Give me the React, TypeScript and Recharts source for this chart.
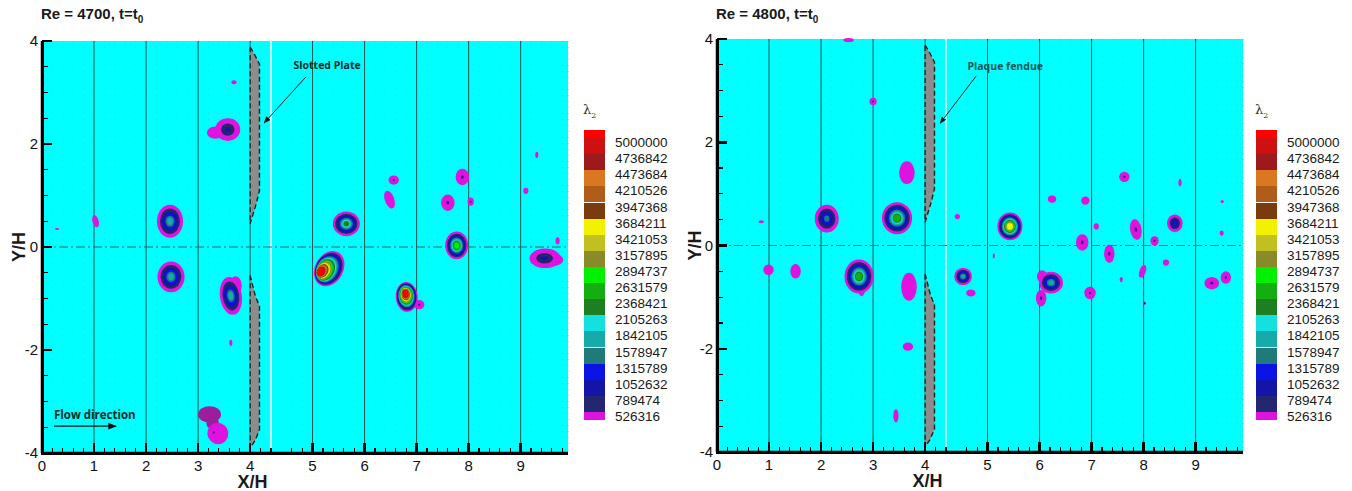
import React from 'react';
import {
  ScatterChart,
  Scatter,
  XAxis,
  YAxis,
  CartesianGrid,
  ReferenceLine,
  ReferenceDot,
  Legend,
} from 'recharts';

// λ2 contour levels, top of the colour bar first
const levelLabels = [
  '5000000', '4736842', '4473684', '4210526', '3947368', '3684211',
  '3421053', '3157895', '2894737', '2631579', '2368421', '2105263',
  '1842105', '1578947', '1315789', '1052632', '789474', '526316',
];

// band colours from the lowest level (index 0) to the highest
const levelColors = [
  '#e012e0', '#23276e', '#1414a8', '#0a14e6', '#1f7a7a', '#17aaaa',
  '#14e0e0', '#1f7d22', '#12ae12', '#00f000', '#898a2a', '#c0c020',
  '#f2f200', '#7b3b0e', '#b05c1b', '#d97820', '#9c1a1c', '#cf1010', '#ff0000',
];
const PURPLE = '#9d1d9d';

const labelY = [-4, -2, 0, 2, 4];
const gridX = [1, 2, 3, 4, 5, 6, 7, 8, 9];

// vortex cores: [x/H, y/H, half-width, half-height, highest level, tilt deg, core dx, core dy]
type Vortex = [number, number, number, number, number, number, number?, number?];

const vortices4700: Vortex[] = [
  [3.33, 2.22, 0.16, 0.12, 0, 0],
  [3.57, 2.28, 0.24, 0.22, 2, 0],
  [2.46, 0.5, 0.25, 0.32, 5, 0],
  [2.48, -0.58, 0.26, 0.3, 5, 0],
  [3.72, -0.75, 0.12, 0.18, 0, 0],
  [3.63, -0.95, 0.21, 0.37, 5, -8],
  [3.63, -1.86, 0.03, 0.06, 0, 0],
  [3.69, 3.2, 0.05, 0.04, 0, 0],
  [1.03, 0.5, 0.06, 0.12, 0, -15],
  [0.29, 0.35, 0.04, 0.02, 0, 0],
  [3.22, -3.25, 0.22, 0.16, -1, 0],
  [3.28, -3.42, 0.12, 0.12, -1, 0],
  [3.38, -3.62, 0.2, 0.21, 0, -25],
  [3.3, -3.6, 0.02, 0.02, 1, 0],
  [5.65, 0.45, 0.26, 0.24, 7, 0],
  [5.32, -0.42, 0.27, 0.36, 18, 30, -0.12, -0.14],
  [7.05, -1.12, 0.1, 0.09, 1, 0],
  [6.81, -0.97, 0.21, 0.29, 18, -5, -0.02, 0.07],
  [7.77, 0.03, 0.22, 0.27, 9, 0],
  [7.6, 0.86, 0.13, 0.16, 1, 0],
  [7.88, 1.36, 0.13, 0.16, 1, 0],
  [8.04, 0.88, 0.06, 0.08, 1, 0],
  [6.56, 1.3, 0.1, 0.09, 1, 0],
  [6.48, 0.92, 0.09, 0.18, 0, -20],
  [9.62, -0.25, 0.2, 0.12, 0, 0],
  [9.47, -0.22, 0.3, 0.19, 2, 0, -0.02, 0],
  [9.71, 0.12, 0.04, 0.07, 0, 0],
  [9.1, 1.09, 0.05, 0.06, 0, 0],
  [9.31, 1.79, 0.03, 0.06, 0, 0],
];

const vortices4800: Vortex[] = [
  [2.53, 3.98, 0.1, 0.04, 0, 0],
  [3.0, 2.79, 0.07, 0.07, 1, 0],
  [3.65, 1.41, 0.15, 0.22, 0, 0],
  [2.11, 0.52, 0.23, 0.27, 4, 0],
  [3.46, 0.53, 0.29, 0.31, 8, 0],
  [2.78, -0.88, 0.06, 0.1, 0, 0],
  [2.73, -0.6, 0.28, 0.33, 8, 0],
  [3.69, -0.8, 0.15, 0.27, 0, 0],
  [0.99, -0.47, 0.1, 0.1, 0, 0],
  [1.51, -0.5, 0.1, 0.14, 0, 0],
  [0.85, 0.46, 0.05, 0.03, 0, 0],
  [3.67, -1.96, 0.1, 0.08, 0, 0],
  [3.44, -3.3, 0.05, 0.13, 0, 0],
  [4.42, 0.56, 0.05, 0.05, 0, 0],
  [4.53, -0.6, 0.17, 0.17, 5, 0],
  [4.68, -0.92, 0.09, 0.07, 0, 0],
  [5.43, 0.37, 0.24, 0.27, 12, 0],
  [5.12, -0.2, 0.02, 0.05, 0, 0],
  [6.05, -0.6, 0.1, 0.12, 0, 0],
  [6.22, -0.72, 0.23, 0.21, 5, 0],
  [6.03, -1.02, 0.1, 0.16, 1, 0],
  [6.24, 0.9, 0.08, 0.07, 0, 0],
  [6.88, 0.87, 0.08, 0.08, 0, 0],
  [6.82, 0.06, 0.12, 0.16, 1, 0],
  [7.09, 0.37, 0.05, 0.06, 0, 0],
  [7.34, -0.16, 0.1, 0.18, 1, 0],
  [6.97, -0.92, 0.11, 0.12, 1, 0],
  [7.63, 1.33, 0.1, 0.1, 1, 0],
  [7.85, 0.31, 0.11, 0.2, 1, -10],
  [7.57, -0.66, 0.03, 0.05, 0, 0],
  [7.98, -0.5, 0.06, 0.13, 0, 20],
  [8.21, 0.09, 0.08, 0.09, 1, 0],
  [8.6, 0.43, 0.15, 0.17, 3, 0],
  [8.43, -0.33, 0.06, 0.06, 0, 0],
  [8.7, 1.22, 0.03, 0.07, 0, 0],
  [9.31, -0.73, 0.14, 0.12, 1, 0],
  [9.58, -0.62, 0.1, 0.12, 1, 0],
  [9.5, 0.24, 0.04, 0.05, 0, 0],
  [9.51, 0.85, 0.03, 0.03, 0, 0],
  [8.02, -1.12, 0.02, 0.03, 1, 0],
];

// slotted plate outline (upper and lower halves)
const plateUpper = [
  { x: 4.0, y: 3.88 }, { x: 4.08, y: 3.75 }, { x: 4.18, y: 3.55 }, { x: 4.18, y: 1.1 },
  { x: 4.12, y: 0.85 }, { x: 4.0, y: 0.45 }, { x: 4.0, y: 3.88 },
];
const plateLower = [
  { x: 4.0, y: -0.55 }, { x: 4.1, y: -0.95 }, { x: 4.18, y: -1.15 }, { x: 4.18, y: -3.55 },
  { x: 4.1, y: -3.75 }, { x: 4.0, y: -3.9 }, { x: 4.0, y: -0.55 },
];

const X_MAX = 9.91;
const X_BREAK = 4.4;
const X_GAP = 0.2;
const FONT = '"Liberation Sans", Arial, sans-serif';

const xTicks = Array.from({ length: 50 }, (_, i) => Math.round(i * 2) / 10);
const yTicks = Array.from({ length: 17 }, (_, i) => -4 + i * 0.5);
const isWhole = (v: number) => Math.abs(v - Math.round(v)) < 1e-6;

// the two stitched camera images leave a small jump just after x/H = 4.4
function gapScale(breakAt: number, gap: number): any {
  let dom: number[] = [0, 1];
  let rng: number[] = [0, 1];
  const warp = (v: number) => (v > breakAt ? v + gap : v);
  const scale: any = (v: number) => {
    const a = warp(dom[0]);
    const b = warp(dom[dom.length - 1]);
    const r0 = rng[0];
    const r1 = rng[rng.length - 1];
    return r0 + ((warp(Number(v)) - a) / (b - a)) * (r1 - r0);
  };
  scale.domain = (d?: any[]) => {
    if (d === undefined) return dom.slice();
    dom = d.map(Number);
    return scale;
  };
  scale.range = (r?: any[]) => {
    if (r === undefined) return rng.slice();
    rng = r.map(Number);
    return scale;
  };
  scale.invert = (px: number) => {
    const a = warp(dom[0]);
    const b = warp(dom[dom.length - 1]);
    const u = a + ((px - rng[0]) / (rng[rng.length - 1] - rng[0])) * (b - a);
    return u > breakAt + gap ? u - gap : Math.min(u, breakAt);
  };
  scale.copy = () => gapScale(breakAt, gap).domain(dom).range(rng);
  scale.ticks = () => xTicks;
  scale.tickFormat = () => (v: number) => String(v);
  scale.clamp = () => scale;
  scale.nice = () => scale;
  return scale;
}

function Blob(props: any) {
  const { cx, cy, payload, kx, ky } = props;
  const { rx, ry, lv, tilt, ox, oy } = payload;
  if (cx == null || cy == null) return <g />;
  if (lv < 0) {
    return (
      <ellipse cx={cx} cy={cy} rx={rx * kx} ry={ry * ky} fill={PURPLE}
        transform={`rotate(${tilt} ${cx} ${cy})`} />
    );
  }
  const rings = [];
  for (let k = 0; k <= lv; k++) {
    const t = lv === 0 ? 0 : k / lv;
    const f = 1 - 0.78 * Math.pow(t, 0.75);
    rings.push(
      <ellipse
        key={k}
        cx={cx + ox * kx * t}
        cy={cy - oy * ky * t}
        rx={Math.max(rx * kx * f, 1)}
        ry={Math.max(ry * ky * f, 1)}
        fill={levelColors[k]}
      />,
    );
  }
  return <g transform={`rotate(${tilt} ${cx} ${cy})`}>{rings}</g>;
}

const XTick = (props: any) => {
  const { x, y, payload } = props;
  const v = payload.value;
  if (!isWhole(v)) return <g />;
  return (
    <text x={x} y={y + 18} textAnchor="middle" fontSize={15} fill="#111" fontFamily={FONT}>
      {v}
    </text>
  );
};

const YTick = (props: any) => {
  const { x, y, payload } = props;
  const v = payload.value;
  if (!labelY.includes(v)) return <g />;
  return (
    <text x={x - 4} y={y + 5} textAnchor="end" fontSize={15} fill="#111" fontFamily={FONT}>
      {v}
    </text>
  );
};

function ColorBar() {
  const bandH = 290 / 18;
  const topDown = levelColors.slice().reverse();
  return (
    <div style={{ position: 'relative', width: 100, height: 330, fontFamily: FONT, color: '#1a1a1a' }}>
      <div style={{ position: 'absolute', left: 3, top: 2, fontFamily: '"DejaVu Serif", serif', fontSize: 13, color: '#333' }}>
        λ<sub style={{ fontSize: 8 }}>2</sub>
      </div>
      {topDown.map((c, i) => (
        <div
          key={c}
          style={{
            position: 'absolute',
            left: 4,
            width: 21,
            top: 30 + (i === 0 ? 0 : bandH / 2 + (i - 1) * bandH),
            height: i === 0 || i === topDown.length - 1 ? bandH / 2 : bandH,
            background: c,
          }}
        />
      ))}
      {levelLabels.map((t, j) => (
        <div
          key={t}
          style={{
            position: 'absolute',
            left: 35,
            top: 30 + bandH / 2 + j * bandH + 5 - 8,
            fontSize: 13.5,
            lineHeight: '16px',
            whiteSpace: 'nowrap',
          }}
        >
          {t}
        </div>
      ))}
    </div>
  );
}

// inward axis ticks laid over the chart, placed with the same x scale the chart uses
function AxisTicks({ left, top, plotW, plotH }: { left: number; top: number; plotW: number; plotH: number }) {
  const sx = gapScale(X_BREAK, X_GAP).domain([0, X_MAX]).range([0, plotW]);
  const sy = (v: number) => ((4 - v) / 8) * plotH;
  return (
    <div style={{ position: 'absolute', left, top, width: plotW, height: plotH, pointerEvents: 'none' }}>
      <div style={{ position: 'absolute', left: -1, top: 0, width: 2.5, height: plotH + 1, background: '#000' }} />
      <div style={{ position: 'absolute', left: -1, top: plotH - 1, width: plotW + 1, height: 2.5, background: '#000' }} />
      {xTicks.map((v) => {
        const major = isWhole(v);
        const w = major ? 2.5 : 1.2;
        const h = major ? 10 : 5;
        return (
          <div
            key={`x${v}`}
            style={{ position: 'absolute', left: sx(v) - w / 2, top: plotH - h, width: w, height: h, background: '#000' }}
          />
        );
      })}
      {yTicks.map((v) => {
        const major = labelY.includes(v);
        const w = major ? 10 : 6;
        const h = major ? 2.5 : 1.2;
        return (
          <div
            key={`y${v}`}
            style={{ position: 'absolute', left: 0, top: sy(v) - h / 2, width: w, height: h, background: '#000' }}
          />
        );
      })}
    </div>
  );
}

interface PanelProps {
  left: number;
  top: number;
  marginRight: number;
  yWidth: number;
  xHeight: number;
  title: string;
  vortices: Vortex[];
  note: string;
  noteAt: { x: number; y: number };
  noteColor: string;
  arrow: { x: number; y: number }[];
  flow: boolean;
  legendLeft: number;
  id: string;
}

function Panel(p: PanelProps) {
  const width = 676;
  const height = 491;
  const plotW = width - p.marginRight - p.yWidth;
  const plotH = height - p.top - p.xHeight;
  const kx = plotW / (X_MAX + X_GAP);
  const ky = plotH / 8;
  const data = p.vortices.map(([x, y, rx, ry, lv, tilt, ox = 0, oy = 0]) => ({ x, y, rx, ry, lv, tilt, ox, oy }));
  const xScale = gapScale(X_BREAK, X_GAP);
  const marker = `url(#arrow-${p.id})`;

  return (
    <div style={{ position: 'absolute', left: p.left, top: 0, width, height }}>
      <div
        style={{
          position: 'absolute',
          left: p.yWidth - 1,
          top: 5,
          fontFamily: FONT,
          fontWeight: 'bold',
          fontSize: 15,
          color: '#1a1a1a',
          whiteSpace: 'nowrap',
        }}
      >
        {p.title}
        <sub style={{ fontSize: 10 }}>0</sub>
      </div>
      <ScatterChart width={width} height={height} margin={{ top: p.top, right: p.marginRight, bottom: 0, left: 0 }}>
        <CartesianGrid horizontal={false} vertical={false} fill="#00ffff" />
        <CartesianGrid horizontal={false} stroke="#58c4c4" strokeDasharray="1 5" />
        {gridX.map((g) => (
          <ReferenceLine key={g} x={g} stroke="#1d5656" strokeWidth={1} />
        ))}
        <ReferenceLine x={X_BREAK} stroke="#ffffff" strokeWidth={1.5} />
        <ReferenceLine y={0} stroke="#2c6d6d" strokeWidth={1.2} strokeDasharray="9 3 2 3" />
        <Scatter
          name="plate-upper"
          data={plateUpper}
          line={{ stroke: '#222', strokeWidth: 1.4, strokeDasharray: '5 3', fill: '#8c8c8c' }}
          lineJointType="linear"
          shape={() => <g />}
          isAnimationActive={false}
        />
        <Scatter
          name="plate-lower"
          data={plateLower}
          line={{ stroke: '#222', strokeWidth: 1.4, strokeDasharray: '5 3', fill: '#8c8c8c' }}
          lineJointType="linear"
          shape={() => <g />}
          isAnimationActive={false}
        />
        <Scatter
          name="λ2"
          data={data}
          shape={(sp: any) => <Blob {...sp} kx={kx} ky={ky} />}
          isAnimationActive={false}
        />
        <ReferenceDot
          x={p.noteAt.x}
          y={p.noteAt.y}
          r={1}
          shape={(sp: any) => (
            <g>
              <defs>
                <marker id={`arrow-${p.id}`} viewBox="0 0 10 10" refX="9" refY="5" markerWidth="7" markerHeight="7" orient="auto">
                  <path d="M0,1 L10,5 L0,9 z" fill="#111" />
                </marker>
              </defs>
              <text
                x={sp.cx}
                y={sp.cy}
                textAnchor="middle"
                fontSize={10.5}
                fontWeight="bold"
                fontFamily='"Open Sans", sans-serif'
                fill={p.noteColor}
              >
                {p.note}
              </text>
            </g>
          )}
        />
        <ReferenceLine segment={p.arrow} stroke="#222" strokeWidth={1} markerEnd={marker} />
        {p.flow && (
          <ReferenceDot
            x={0.23}
            y={-3.34}
            r={1}
            shape={(sp: any) => (
              <text
                x={sp.cx}
                y={sp.cy}
                textAnchor="start"
                fontSize={11.5}
                fontWeight="bold"
                fontFamily='"Open Sans", sans-serif'
                fill="#0e2a2a"
              >
                Flow direction
              </text>
            )}
          />
        )}
        {p.flow && (
          <ReferenceLine
            segment={[{ x: 0.23, y: -3.48 }, { x: 1.42, y: -3.48 }]}
            stroke="#111"
            strokeWidth={1.2}
            markerEnd={marker}
          />
        )}
        <XAxis
          type="number"
          dataKey="x"
          domain={[0, X_MAX]}
          scale={xScale}
          ticks={xTicks}
          interval={0}
          tickSize={0}
          tickMargin={0}
          tickLine={false}
          tick={<XTick />}
          height={p.xHeight}
          axisLine={{ stroke: '#000', strokeWidth: 2.5 }}
          label={{
            content: ({ viewBox }: any) => (
              <text
                x={viewBox.x + viewBox.width * 0.4}
                y={viewBox.y + 35}
                textAnchor="middle"
                fontSize={18}
                fontWeight="bold"
                fontFamily={FONT}
                fill="#1a1a1a"
              >
                X/H
              </text>
            ),
          }}
        />
        <YAxis
          type="number"
          dataKey="y"
          domain={[-4, 4]}
          ticks={yTicks}
          interval={0}
          tickSize={0}
          tickMargin={0}
          tickLine={false}
          tick={<YTick />}
          width={p.yWidth}
          axisLine={{ stroke: '#000', strokeWidth: 2.5 }}
          label={{
            content: ({ viewBox }: any) => {
              const lx = viewBox.x + 25;
              const ly = viewBox.y + viewBox.height / 2;
              return (
                <text
                  x={lx}
                  y={ly}
                  transform={`rotate(-90 ${lx} ${ly})`}
                  textAnchor="middle"
                  fontSize={18}
                  fontWeight="bold"
                  fontFamily={FONT}
                  fill="#1a1a1a"
                >
                  Y/H
                </text>
              );
            },
          }}
        />
        <Legend
          content={() => <ColorBar />}
          layout="horizontal"
          verticalAlign="middle"
          align="center"
          wrapperStyle={{ left: p.legendLeft, top: 100, width: 100, height: 330 }}
        />
      </ScatterChart>
      <AxisTicks left={p.yWidth} top={p.top} plotW={plotW} plotH={plotH} />
    </div>
  );
}

export default function App() {
  return (
    <div style={{ position: 'absolute', left: 0, top: 0, width: 1352, height: 491, background: '#fff', overflow: 'hidden' }}>
      <Panel
        id="a"
        left={0}
        top={41}
        marginRight={108}
        yWidth={42}
        xHeight={38}
        title="Re = 4700, t=t"
        vortices={vortices4700}
        note="Slotted Plate"
        noteAt={{ x: 5.28, y: 3.46 }}
        noteColor="#0d2626"
        arrow={[{ x: 4.87, y: 3.3 }, { x: 4.27, y: 2.41 }]}
        flow
        legendLeft={580}
      />
      <Panel
        id="b"
        left={676}
        top={39}
        marginRight={109}
        yWidth={41}
        xHeight={39}
        title="Re = 4800, t=t"
        vortices={vortices4800}
        note="Plaque fendue"
        noteAt={{ x: 5.34, y: 3.4 }}
        noteColor="#1a5555"
        arrow={[{ x: 4.78, y: 3.28 }, { x: 4.29, y: 2.37 }]}
        flow={false}
        legendLeft={576}
      />
    </div>
  );
}
